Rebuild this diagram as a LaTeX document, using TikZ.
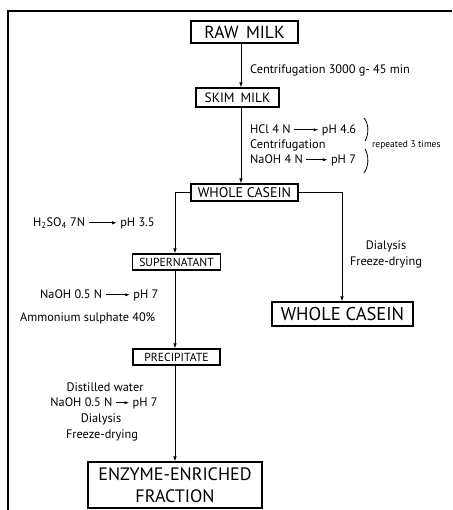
\documentclass[tikz,border=0pt]{standalone}
\usepackage{fontspec}
\setmainfont{PT Sans}
\usetikzlibrary{arrows.meta}
\newcommand{\rar}[1]{\tikz[baseline=-0.55ex]\draw[-{Latex[length=4.5pt,width=3.2pt]},line width=0.7pt] (0pt,0pt) -- (#1,0pt);}
\begin{document}
\begin{tikzpicture}[x=1pt,y=-1pt,
  box/.style={draw,line width=1.1pt,inner sep=0pt,align=center},
  lbl/.style={inner sep=0pt,font=\fontsize{12.3}{14}\selectfont},
  arr/.style={-{Latex[length=5pt,width=3.5pt]},line width=0.8pt},
  ln/.style={line width=0.8pt}]
\useasboundingbox (0,0) rectangle (452,510);
\draw[line width=1.2pt] (8,510) -- (8,11) -- (452,11);
% boxes
\node[box,minimum width=107pt,minimum height=22pt,font=\fontsize{17.5}{19}\selectfont] (raw) at (244.5,32) {RAW\, MILK};
\node[box,minimum width=83pt,minimum height=19pt,font=\fontsize{13.5}{15}\selectfont] (skim) at (237.5,97.5) {SKIM\, MILK};
\node[box,minimum width=107pt,minimum height=17pt,font=\fontsize{14}{15}\selectfont] (wc) at (244.5,192.5) {WHOLE CASEIN};
\node[box,minimum width=88pt,minimum height=16pt,font=\fontsize{11.7}{13}\selectfont] (sup) at (176.5,262) {SUPERNATANT};
\node[box,minimum width=87pt,minimum height=16pt,font=\fontsize{11.7}{13}\selectfont] (prec) at (176.5,357) {PRECIPITATE};
\node[box,minimum width=141pt,minimum height=24pt,font=\fontsize{18.5}{20}\selectfont] (bigwc) at (342.5,314) {WHOLE CASEIN};
\node[box,minimum width=174pt,minimum height=46pt,font=\fontsize{18}{22}\selectfont] (enz) at (175,485) {ENZYME-ENRICHED\\FRACTION};
% connector coordinates
\coordinate (cx) at (241,0);
\coordinate (lx) at (175,0);
\coordinate (rx) at (342,0);
\draw[arr] (raw.south -| cx) -- (skim.north -| cx);
\draw[arr] (skim.south -| cx) -- (wc.north -| cx);
\draw[arr] (wc.west) -| (sup.north -| lx);
\draw[arr] (wc.east) -| (bigwc.north -| rx);
\draw[arr] (sup.south -| lx) -- (prec.north -| lx);
\draw[arr] (prec.south -| lx) -- (enz.north -| lx);
% labels
\node[lbl,anchor=west] (l1) at (250,70) {Centrifugation 3000 g- 45 min};
\node[lbl,anchor=west] (l2) at (250,130) {HCl 4 N \rar{24pt} pH 4.6};
\node[lbl,anchor=west] (l3) at (250,145) {Centrifugation};
\node[lbl,anchor=west] (l4) at (250,160) {NaOH 4 N \rar{21pt} pH 7};
\draw[ln] (364,118) .. controls (369,124) and (369,134) .. (365,141);
\draw[ln] (365,149) .. controls (369,156) and (369,166) .. (364,173);
\node[inner sep=0pt,anchor=west,font=\fontsize{9.5}{11}\selectfont] (rep) at (372,145) {repeated 3 times};
\node[lbl,anchor=west] (l5) at (33,223) {H\textsubscript{2}SO\textsubscript{4} 7N \rar{28pt} pH 3.5};
\node[lbl,anchor=west] (l6) at (40,295) {NaOH 0.5 N \rar{24pt} pH 7};
\node[lbl,anchor=west] (l7) at (20,318) {Ammonium sulphate 40\%};
\node[lbl] (l8) at (386,246) {Dialysis};
\node[lbl] (l9) at (386,262) {Freeze-drying};
\node[lbl] (l10) at (105,387) {Distilled water};
\node[lbl] (l11) at (104,403) {NaOH 0.5 N \rar{13pt} pH 7};
\node[lbl] (l12) at (101,419) {Dialysis};
\node[lbl] (l13) at (102,435) {Freeze-drying};
\end{tikzpicture}
\end{document}
